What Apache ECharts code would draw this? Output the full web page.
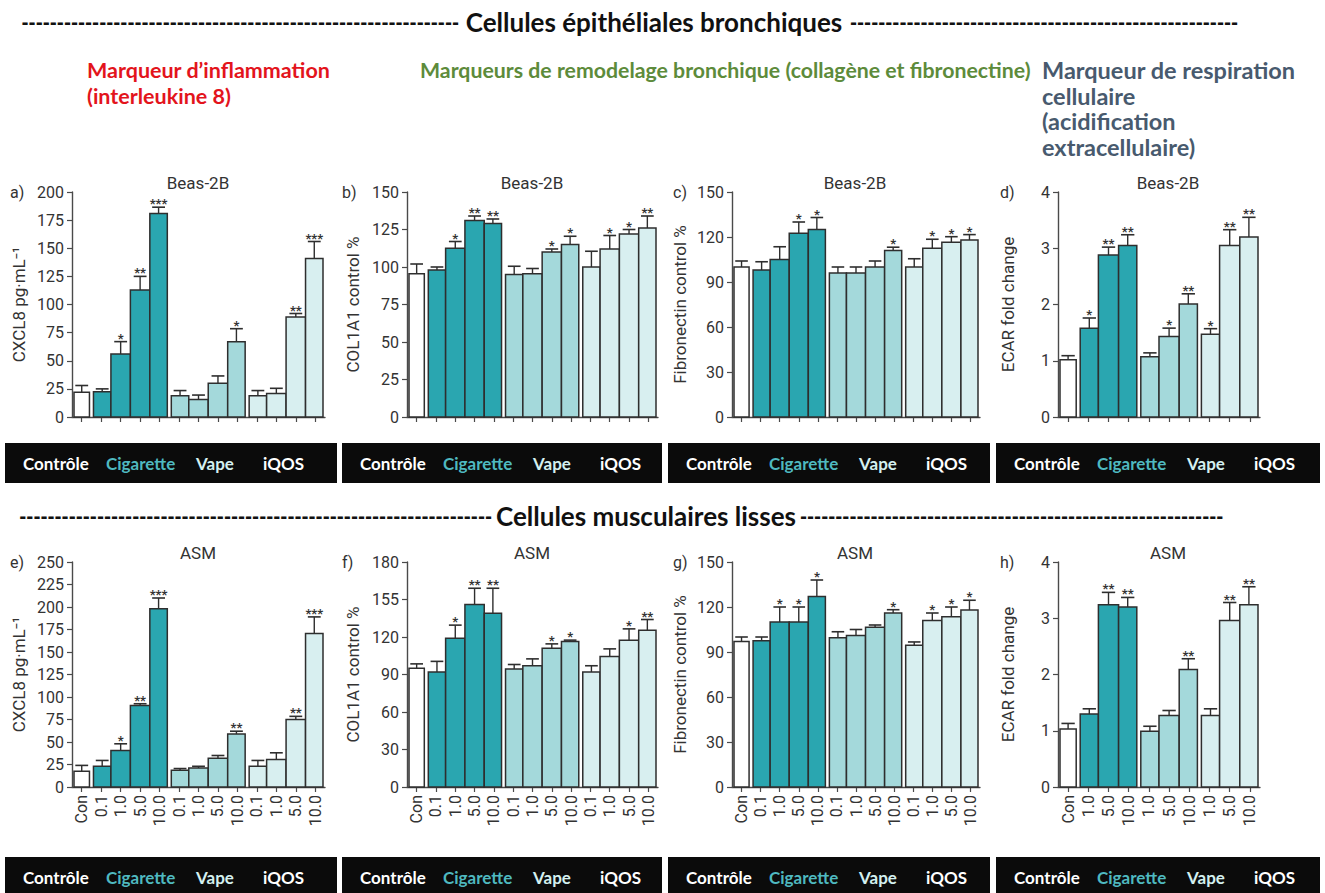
<!DOCTYPE html>
<html>
<head>
<meta charset="utf-8">
<script src="https://cdn.jsdelivr.net/npm/echarts/dist/echarts.min.js"></script>
<style>
  html, body { margin: 0; padding: 0; background: #ffffff; }
  #chart { width: 1325px; height: 893px; }
</style>
</head>
<body>
<div id="chart"></div>
<script>
// ---- categories (concentration, %) ----
const catsFull = ['Con', '0.1', '1.0', '5.0', '10.0', '0.1', '1.0', '5.0', '10.0', '0.1', '1.0', '5.0', '10.0'];
const catsEcar = ['Con', '1.0', '5.0', '10.0', '1.0', '5.0', '10.0', '1.0', '5.0', '10.0'];
// treatment of each bar: 0 contrôle, 1 cigarette, 2 vape, 3 iQOS
const groupsFull = [0, 1, 1, 1, 1, 2, 2, 2, 2, 3, 3, 3, 3];
const groupsEcar = [0, 1, 1, 1, 2, 2, 2, 3, 3, 3];
const treatmentNames = ['Contrôle', 'Cigarette', 'Vape', 'iQOS'];

// ---- a) CXCL8, Beas-2B ----
const cxclBeasMean = [22, 22.5, 56, 113, 181, 19, 15.5, 30, 67, 19, 21, 89, 141];
const cxclBeasErr  = [6, 2.5, 11, 12, 5.5, 4.5, 4, 6.5, 11.5, 4.5, 4.5, 3, 15];
const cxclBeasSig  = ['', '', '*', '**', '***', '', '', '', '*', '', '', '**', '***'];

// ---- b) COL1A1, Beas-2B ----
const colBeasMean = [95.5, 98, 112.5, 131, 129, 95, 95.5, 110, 115, 100, 112, 122, 126];
const colBeasErr  = [6.5, 2, 4.5, 3, 3, 5.5, 3.5, 2, 5.5, 10.5, 9, 3, 8];
const colBeasSig  = ['', '', '*', '**', '**', '', '', '*', '*', '', '*', '*', '**'];

// ---- c) Fibronectin, Beas-2B ----
const fibBeasMean = [100, 98, 105, 122.5, 125, 96, 96, 100, 111, 100, 112.5, 116.5, 118];
const fibBeasErr  = [4, 5.5, 8.5, 7.5, 8, 4, 4, 4, 2.2, 5.5, 6, 3.7, 3.6];
const fibBeasSig  = ['', '', '', '*', '*', '', '', '', '*', '', '*', '*', '*'];

// ---- d) ECAR, Beas-2B ----
const ecarBeasMean = [1.02, 1.58, 2.88, 3.05, 1.07, 1.43, 2.01, 1.47, 3.05, 3.2];
const ecarBeasErr  = [0.07, 0.18, 0.14, 0.19, 0.07, 0.15, 0.18, 0.1, 0.28, 0.35];
const ecarBeasSig  = ['', '*', '**', '**', '', '*', '**', '*', '**', '**'];

// ---- e) CXCL8, ASM ----
const cxclAsmMean = [17.5, 23, 40.5, 90.5, 198, 18.5, 21, 32, 59, 23, 30.5, 75, 170.5];
const cxclAsmErr  = [6.5, 6.5, 7.5, 2, 12, 2, 2, 3, 3, 6.5, 7.5, 3.5, 18.5];
const cxclAsmSig  = ['', '', '*', '**', '***', '', '', '', '**', '', '', '**', '***'];

// ---- f) COL1A1, ASM ----
const colAsmMean = [95, 92, 119, 146, 139, 94.5, 97, 111, 116.5, 92, 104.5, 117.5, 125.5];
const colAsmErr  = [3.5, 8.5, 10.5, 13, 20, 3.5, 5.5, 3.5, 1, 5, 6, 9, 8.5];
const colAsmSig  = ['', '', '*', '**', '**', '', '', '*', '*', '', '', '*', '**'];

// ---- g) Fibronectin, ASM ----
const fibAsmMean = [97, 97.5, 110, 110, 127, 99.5, 101, 106.5, 116, 94.5, 111, 113.5, 118];
const fibAsmErr  = [3, 2.5, 10, 10, 11, 4, 4, 1.5, 2.2, 2.2, 5, 6.5, 6.5];
const fibAsmSig  = ['', '', '*', '*', '*', '', '', '', '*', '', '*', '*', '*'];

// ---- h) ECAR, ASM ----
const ecarAsmMean = [1.03, 1.30, 3.24, 3.20, 0.99, 1.27, 2.09, 1.27, 2.96, 3.24];
const ecarAsmErr  = [0.1, 0.09, 0.22, 0.17, 0.09, 0.09, 0.19, 0.12, 0.32, 0.32];
const ecarAsmSig  = ['', '', '**', '**', '', '', '**', '', '**', '**'];

// ---- y tick labels of panel f (as printed) ----
const colAsmTicks = ['0', '30', '60', '90', '120', '155', '180'];

// ---- texts ----
const panelLetters = ['a)', 'b)', 'c)', 'd)', 'e)', 'f)', 'g)', 'h)'];
const rowTitles = ['Beas-2B', 'ASM'];
const sectionTitles = ['Cellules épithéliales bronchiques', 'Cellules musculaires lisses'];
const inflamLines = ['Marqueur d’inflammation', '(interleukine 8)'];
const remodelLines = ['Marqueurs de remodelage bronchique (collagène et fibronectine)'];
const respLines = ['Marqueur de respiration', 'cellulaire', '(acidification', 'extracellulaire)'];

const panels = [
  { cats: catsFull, groups: groupsFull, mean: cxclBeasMean, err: cxclBeasErr, sig: cxclBeasSig, max: 200, step: 25, name: 'CXCL8 pg·mL⁻¹' },
  { cats: catsFull, groups: groupsFull, mean: colBeasMean, err: colBeasErr, sig: colBeasSig, max: 150, step: 25, name: 'COL1A1 control %' },
  { cats: catsFull, groups: groupsFull, mean: fibBeasMean, err: fibBeasErr, sig: fibBeasSig, max: 150, step: 30, name: 'Fibronectin control %' },
  { cats: catsEcar, groups: groupsEcar, mean: ecarBeasMean, err: ecarBeasErr, sig: ecarBeasSig, max: 4, step: 1, name: 'ECAR fold change' },
  { cats: catsFull, groups: groupsFull, mean: cxclAsmMean, err: cxclAsmErr, sig: cxclAsmSig, max: 250, step: 25, name: 'CXCL8 pg·mL⁻¹' },
  { cats: catsFull, groups: groupsFull, mean: colAsmMean, err: colAsmErr, sig: colAsmSig, max: 180, step: 30, name: 'COL1A1 control %', ticks: colAsmTicks },
  { cats: catsFull, groups: groupsFull, mean: fibAsmMean, err: fibAsmErr, sig: fibAsmSig, max: 150, step: 30, name: 'Fibronectin control %' },
  { cats: catsEcar, groups: groupsEcar, mean: ecarAsmMean, err: ecarAsmErr, sig: ecarAsmSig, max: 4, step: 1, name: 'ECAR fold change' }
];

// ---- layout & style ----
const W = 1325;
const colLeft = [72, 407, 732, 1058];
const colWidth = [253, 251, 248, 202];
const rowTop = [192, 562];
const plotH = 225;
const nameGap = [45, 46, 44, 42];
const letterX = [10, 342, 673, 1000];
const titleX = [198, 532, 855, 1168];
const bandLeft = [5, 342, 668, 996];
const bandWidth = [332, 320, 322, 324];
const bandTop = [443, 857];
const bandH = [40, 40];
const bandLabelDx = [18, 101, 191, 258];
const bandLabelColors = ['#ffffff', '#4fb9c0', '#d4f0f0', '#ffffff'];

const GROUP_COLORS = ['#ffffff', '#2aa6b0', '#a4d9db', '#d8eff0'];
const EDGE = '#2e2e2e';
const AXIS = '#4a4a4a';
const CHART_FONT = 'Roboto, "DejaVu Sans", sans-serif';
const HEAD_FONT = 'Lato, "Open Sans", sans-serif';
const DASH_FONT = '"DejaVu Sans", sans-serif';
const GROUP_INSET = 2;

function makeRenderer(panel) {
  return function (params, api) {
    const i = params.dataIndex;
    const v = api.value(1);
    const e = api.value(2);
    const base = api.coord([i, 0]);
    const top = api.coord([i, v]);
    const errTop = api.coord([i, v + e]);
    const band = api.size([1, 0])[0];
    const g = panel.groups;
    const startsGroup = i === 0 || g[i - 1] !== g[i];
    const endsGroup = i === g.length - 1 || g[i + 1] !== g[i];
    const x0 = base[0] - band / 2 + (startsGroup ? GROUP_INSET : 0);
    const x1 = base[0] + band / 2 - (endsGroup ? GROUP_INSET : 0);
    const cx = (x0 + x1) / 2;
    const cap = band * 0.33;
    const children = [
      { type: 'line', shape: { x1: cx, y1: top[1], x2: cx, y2: errTop[1] }, style: { stroke: EDGE, lineWidth: 1.4 } },
      { type: 'line', shape: { x1: cx - cap, y1: errTop[1], x2: cx + cap, y2: errTop[1] }, style: { stroke: EDGE, lineWidth: 1.6 } },
      { type: 'rect', shape: { x: x0, y: top[1], width: x1 - x0, height: base[1] - top[1] },
        style: { fill: GROUP_COLORS[g[i]], stroke: EDGE, lineWidth: 1.5 } }
    ];
    if (panel.sig[i]) {
      children.push({ type: 'text', x: cx, y: errTop[1] + 3,
        style: { text: panel.sig[i], align: 'center', verticalAlign: 'bottom', fontSize: 13, fontWeight: 'bold',
                 fill: '#333', fontFamily: CHART_FONT } });
    }
    return { type: 'group', children: children };
  };
}

// repeated hyphens filling a given width
const measureCtx = document.createElement('canvas').getContext('2d');
function dashes(width, font) {
  measureCtx.font = font;
  const w = measureCtx.measureText('-').width;
  return '-'.repeat(Math.max(1, Math.round(width / w)));
}

const grids = [], xAxes = [], yAxes = [], series = [], graphics = [];
panels.forEach(function (p, k) {
  const row = Math.floor(k / 4), col = k % 4;
  grids.push({ left: colLeft[col], top: rowTop[row], width: colWidth[col], height: plotH, outerBoundsMode: 'none', containLabel: false });
  xAxes.push({
    type: 'category', gridIndex: k, data: p.cats, boundaryGap: true,
    axisLine: { show: true, lineStyle: { color: AXIS, width: 1.4 } },
    axisTick: { show: true, alignWithLabel: true, length: 5, lineStyle: { color: AXIS, width: 1.2 } },
    axisLabel: { show: row === 1, rotate: 90, margin: 8, interval: 0, fontSize: 16, color: '#333', fontFamily: CHART_FONT },
    splitLine: { show: false }
  });
  yAxes.push({
    type: 'value', gridIndex: k, min: 0, max: p.max, interval: p.step,
    name: p.name, nameLocation: 'middle', nameGap: nameGap[col],
    nameTextStyle: { fontSize: 17, color: '#333', fontFamily: CHART_FONT },
    axisLine: { show: true, lineStyle: { color: AXIS, width: 1.4 } },
    axisTick: { show: true, length: 5, inside: false, lineStyle: { color: AXIS, width: 1.2 } },
    axisLabel: { margin: 8, fontSize: 16, color: '#333', fontFamily: CHART_FONT,
      formatter: p.ticks ? function (v) { return p.ticks[Math.round(v / p.step)]; } : null },
    splitLine: { show: false }
  });
  series.push({
    type: 'custom', xAxisIndex: k, yAxisIndex: k, clip: false,
    renderItem: makeRenderer(p),
    encode: { x: 0, y: 1 },
    data: p.mean.map(function (m, i) { return [i, m, p.err[i]]; })
  });
  // panel letter and cell line name
  graphics.push({ type: 'text', x: letterX[col], y: rowTop[row],
    style: { text: panelLetters[k], fontSize: 16, fill: '#333', fontFamily: CHART_FONT, align: 'left', verticalAlign: 'middle' } });
  graphics.push({ type: 'text', x: titleX[col], y: rowTop[row] - 9,
    style: { text: rowTitles[row], fontSize: 17, fill: '#333', fontFamily: CHART_FONT, align: 'center', verticalAlign: 'middle' } });
  // treatment band below each panel
  graphics.push({ type: 'rect', shape: { x: bandLeft[col], y: bandTop[row], width: bandWidth[col], height: bandH[row] },
    style: { fill: '#0b0b0b' } });
  treatmentNames.forEach(function (t, j) {
    graphics.push({ type: 'text', x: bandLeft[col] + bandLabelDx[j], y: bandTop[row] + 20,
      style: { text: t, fontSize: 17, fontWeight: 'bold', fill: bandLabelColors[j], fontFamily: HEAD_FONT, align: 'left', verticalAlign: 'middle' } });
  });
});

// section headings framed by hyphen runs
const HEAD_SIZE = 26;
const DASH_SIZE = 17;
const dashFont = 'bold ' + DASH_SIZE + 'px "DejaVu Sans"';
const sections = [
  { text: sectionTitles[0], y: 22, cx: 654, leftFrom: 22, leftTo: 459, rightFrom: 850, rightTo: 1237 },
  { text: sectionTitles[1], y: 516, cx: 646, leftFrom: 22, leftTo: 492, rightFrom: 800, rightTo: 1225 }
];
sections.forEach(function (s) {
  const dashStyle = { fontSize: DASH_SIZE, fontWeight: 'bold', fill: '#111', fontFamily: DASH_FONT, verticalAlign: 'middle' };
  graphics.push({ type: 'text', x: s.leftTo, y: s.y + 1, style: Object.assign({ text: dashes(s.leftTo - s.leftFrom, dashFont), align: 'right' }, dashStyle) });
  graphics.push({ type: 'text', x: s.cx, y: s.y,
    style: { text: s.text, align: 'center', verticalAlign: 'middle', fontSize: HEAD_SIZE, fontWeight: 'bold', fill: '#111', fontFamily: HEAD_FONT } });
  graphics.push({ type: 'text', x: s.rightFrom, y: s.y + 1, style: Object.assign({ text: dashes(s.rightTo - s.rightFrom, dashFont), align: 'left' }, dashStyle) });
});

// marker descriptions
function block(lines, x, y, color, size) {
  lines.forEach(function (t, i) {
    graphics.push({ type: 'text', x: x, y: y + i * 25.7,
      style: { text: t, fontSize: size, fontWeight: 'bold', fill: color, fontFamily: HEAD_FONT, align: 'left', verticalAlign: 'middle' } });
  });
}
block(inflamLines, 87, 70, '#e3141c', 21.5);
block(remodelLines, 420, 70, '#5d8b3b', 21.3);
block(respLines, 1042, 70, '#485a6e', 23.5);

const chart = echarts.init(document.getElementById('chart'), null, { renderer: 'svg', width: W, height: 893 });
chart.setOption({
  backgroundColor: '#ffffff',
  animation: false,
  grid: grids,
  xAxis: xAxes,
  yAxis: yAxes,
  series: series,
  graphic: graphics
});
</script>
</body>
</html>
